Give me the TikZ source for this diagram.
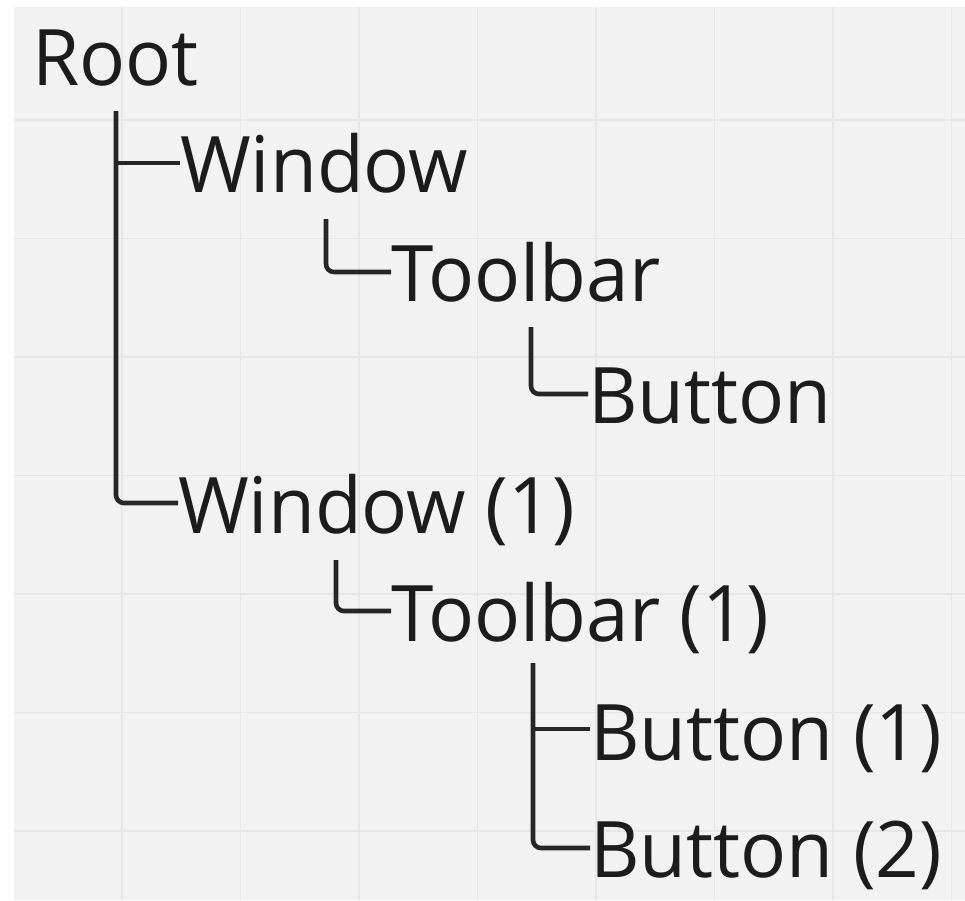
\documentclass[tikz,border=0pt]{standalone}
\usepackage{fontspec}
\setmainfont{Open Sans}[FakeStretch=0.98]
\definecolor{paper}{HTML}{F2F2F2}
\definecolor{gridc}{HTML}{E6E6E6}
\definecolor{ink}{HTML}{1C1C1C}
\definecolor{wire}{HTML}{262626}
\begin{document}
\begin{tikzpicture}[x=1pt,y=-1pt,
  label/.style={anchor=base west,inner sep=0pt,outer sep=0pt,text=ink,font=\fontsize{78}{78}\selectfont},
  wirestyle/.style={draw=wire,line width=4.6pt,rounded corners=8pt}]
  % page and board
  \useasboundingbox (0,0) rectangle (965,900);
  \fill[white] (0,0) rectangle (965,900);
  \fill[paper] (14,7) rectangle (965,900);
  \foreach \i in {0,...,7} \draw[gridc,line width=1.6pt] (122+118.5*\i,7) -- (122+118.5*\i,900);
  \foreach \j in {0,...,6} \draw[gridc,line width=1.6pt] (14,120+118.5*\j) -- (965,120+118.5*\j);
  % labels
  \node[label] (root) at (32,85) {Root};
  \node[label] (win) at (180,192) {Window};
  \node[label] (tb) at (391,301) {Toolbar};
  \node[label] (btn) at (588,423) {Button};
  \node[label] (win1) at (178,533) {Window (1)};
  \node[label] (tb1) at (391,641) {Toolbar (1)};
  \node[label] (btn1) at (590,760) {Button (1)};
  \node[label] (btn2) at (590,877) {Button (2)};
  % trunk start points below each parent
  \coordinate (rootT) at (116,111);
  \coordinate (winT) at (326,219);
  \coordinate (tbT) at (531,327);
  \coordinate (win1T) at (336,560);
  \coordinate (tb1T) at (533,663);
  % connector ends beside each child
  \coordinate (winE) at ([yshift=29pt]win.base west);
  \coordinate (tbE) at ([yshift=29pt]tb.base west);
  \coordinate (btnE) at ([yshift=29pt]btn.base west);
  \coordinate (win1E) at ([yshift=30pt]win1.base west);
  \coordinate (tb1E) at ([yshift=30pt]tb1.base west);
  \coordinate (btn1E) at ([yshift=31pt]btn1.base west);
  \coordinate (btn2E) at ([yshift=29pt]btn2.base west);
  % connectors
  \draw[wirestyle] (rootT) |- (win1E);
  \draw[wirestyle] (rootT |- winE) -- (winE);
  \draw[wirestyle] (winT) |- (tbE);
  \draw[wirestyle] (tbT) |- (btnE);
  \draw[wirestyle] (win1T) |- (tb1E);
  \draw[wirestyle] (tb1T) |- (btn2E);
  \draw[wirestyle] (tb1T |- btn1E) -- (btn1E);
\end{tikzpicture}
\end{document}
